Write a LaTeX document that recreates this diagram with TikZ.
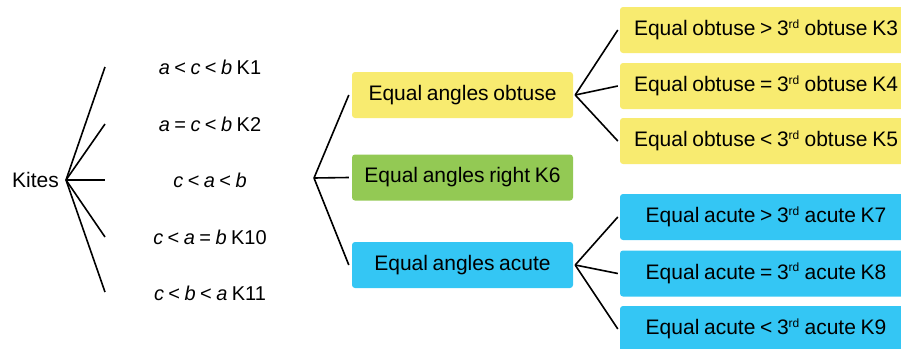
\documentclass[tikz,border=0pt]{standalone}
\usepackage{fontspec}
\setmainfont[WordSpace=0.8]{Liberation Sans}
\definecolor{ylw}{HTML}{F8EB70}
\definecolor{grn}{HTML}{93C954}
\definecolor{blu}{HTML}{34C6F4}
\tikzset{
  lbl/.style={inner sep=0pt, font=\fontsize{20}{24}\selectfont},
  box/.style={rounded corners=3pt, inner sep=0pt, font=\fontsize{21}{25}\selectfont, minimum height=46pt},
  midbox/.style={box, minimum width=221pt},
  rbox/.style={box, minimum width=292pt},
  con/.style={line width=1.6pt, black}
}
\newcommand{\sups}[1]{\textsuperscript{\fontsize{12}{12}\selectfont #1}}
\begin{document}
\begin{tikzpicture}[x=1pt,y=-1pt]
\useasboundingbox (0,0) rectangle (901,348);
\clip (0,0) rectangle (901,348);
% left
\node[lbl, anchor=east, font=\fontsize{21}{25}\selectfont] (kites) at (59,180) {Kites};
\coordinate (k) at (66,180);
\coordinate (e1) at (105,67);
\coordinate (e2) at (105,124);
\coordinate (e3) at (105,180);
\coordinate (e4) at (105,237);
\coordinate (e5) at (105,292);
\foreach \e in {e1,e2,e3,e4,e5} \draw[con] (k) -- (\e);
\node[lbl] (l1) at (210,67) {\textit{a} < \textit{c} < \textit{b} K1};
\node[lbl] (l2) at (210,124) {\textit{a} = \textit{c} < \textit{b} K2};
\node[lbl] (l3) at (210,180) {\textit{c} < \textit{a} < \textit{b}};
\node[lbl] (l4) at (210,237) {\textit{c} < \textit{a} = \textit{b} K10};
\node[lbl] (l5) at (210,293) {\textit{c} < \textit{b} < \textit{a} K11};
% middle
\coordinate (m) at (314,178);
\node[midbox, fill=ylw] (obt) at (462.5,95) {Equal angles obtuse};
\node[midbox, fill=grn] (rt) at (462.5,177.5) {Equal angles right K6};
\node[midbox, fill=blu] (ac) at (462.5,265) {Equal angles acute};
\foreach \b in {obt,rt,ac} \draw[con] (m) -- ([xshift=-3pt]\b.west);
% right
\node[rbox, fill=ylw] (r3) at (766,30) {Equal obtuse > 3\sups{rd} obtuse K3};
\node[rbox, fill=ylw] (r4) at (766,86) {Equal obtuse = 3\sups{rd} obtuse K4};
\node[rbox, fill=ylw] (r5) at (766,141) {Equal obtuse < 3\sups{rd} obtuse K5};
\node[rbox, fill=blu] (r7) at (766,217) {Equal acute > 3\sups{rd} acute K7};
\node[rbox, fill=blu] (r8) at (766,273.5) {Equal acute = 3\sups{rd} acute K8};
\node[rbox, fill=blu] (r9) at (766,329) {Equal acute < 3\sups{rd} acute K9};
\coordinate (fo) at ([xshift=2pt]obt.east);
\coordinate (fa) at ([xshift=2pt]ac.east);
\foreach \b in {r3,r4,r5} \draw[con] (fo) -- ([xshift=-2pt]\b.west);
\foreach \b in {r7,r8,r9} \draw[con] (fa) -- ([xshift=-2pt]\b.west);
\end{tikzpicture}
\end{document}
